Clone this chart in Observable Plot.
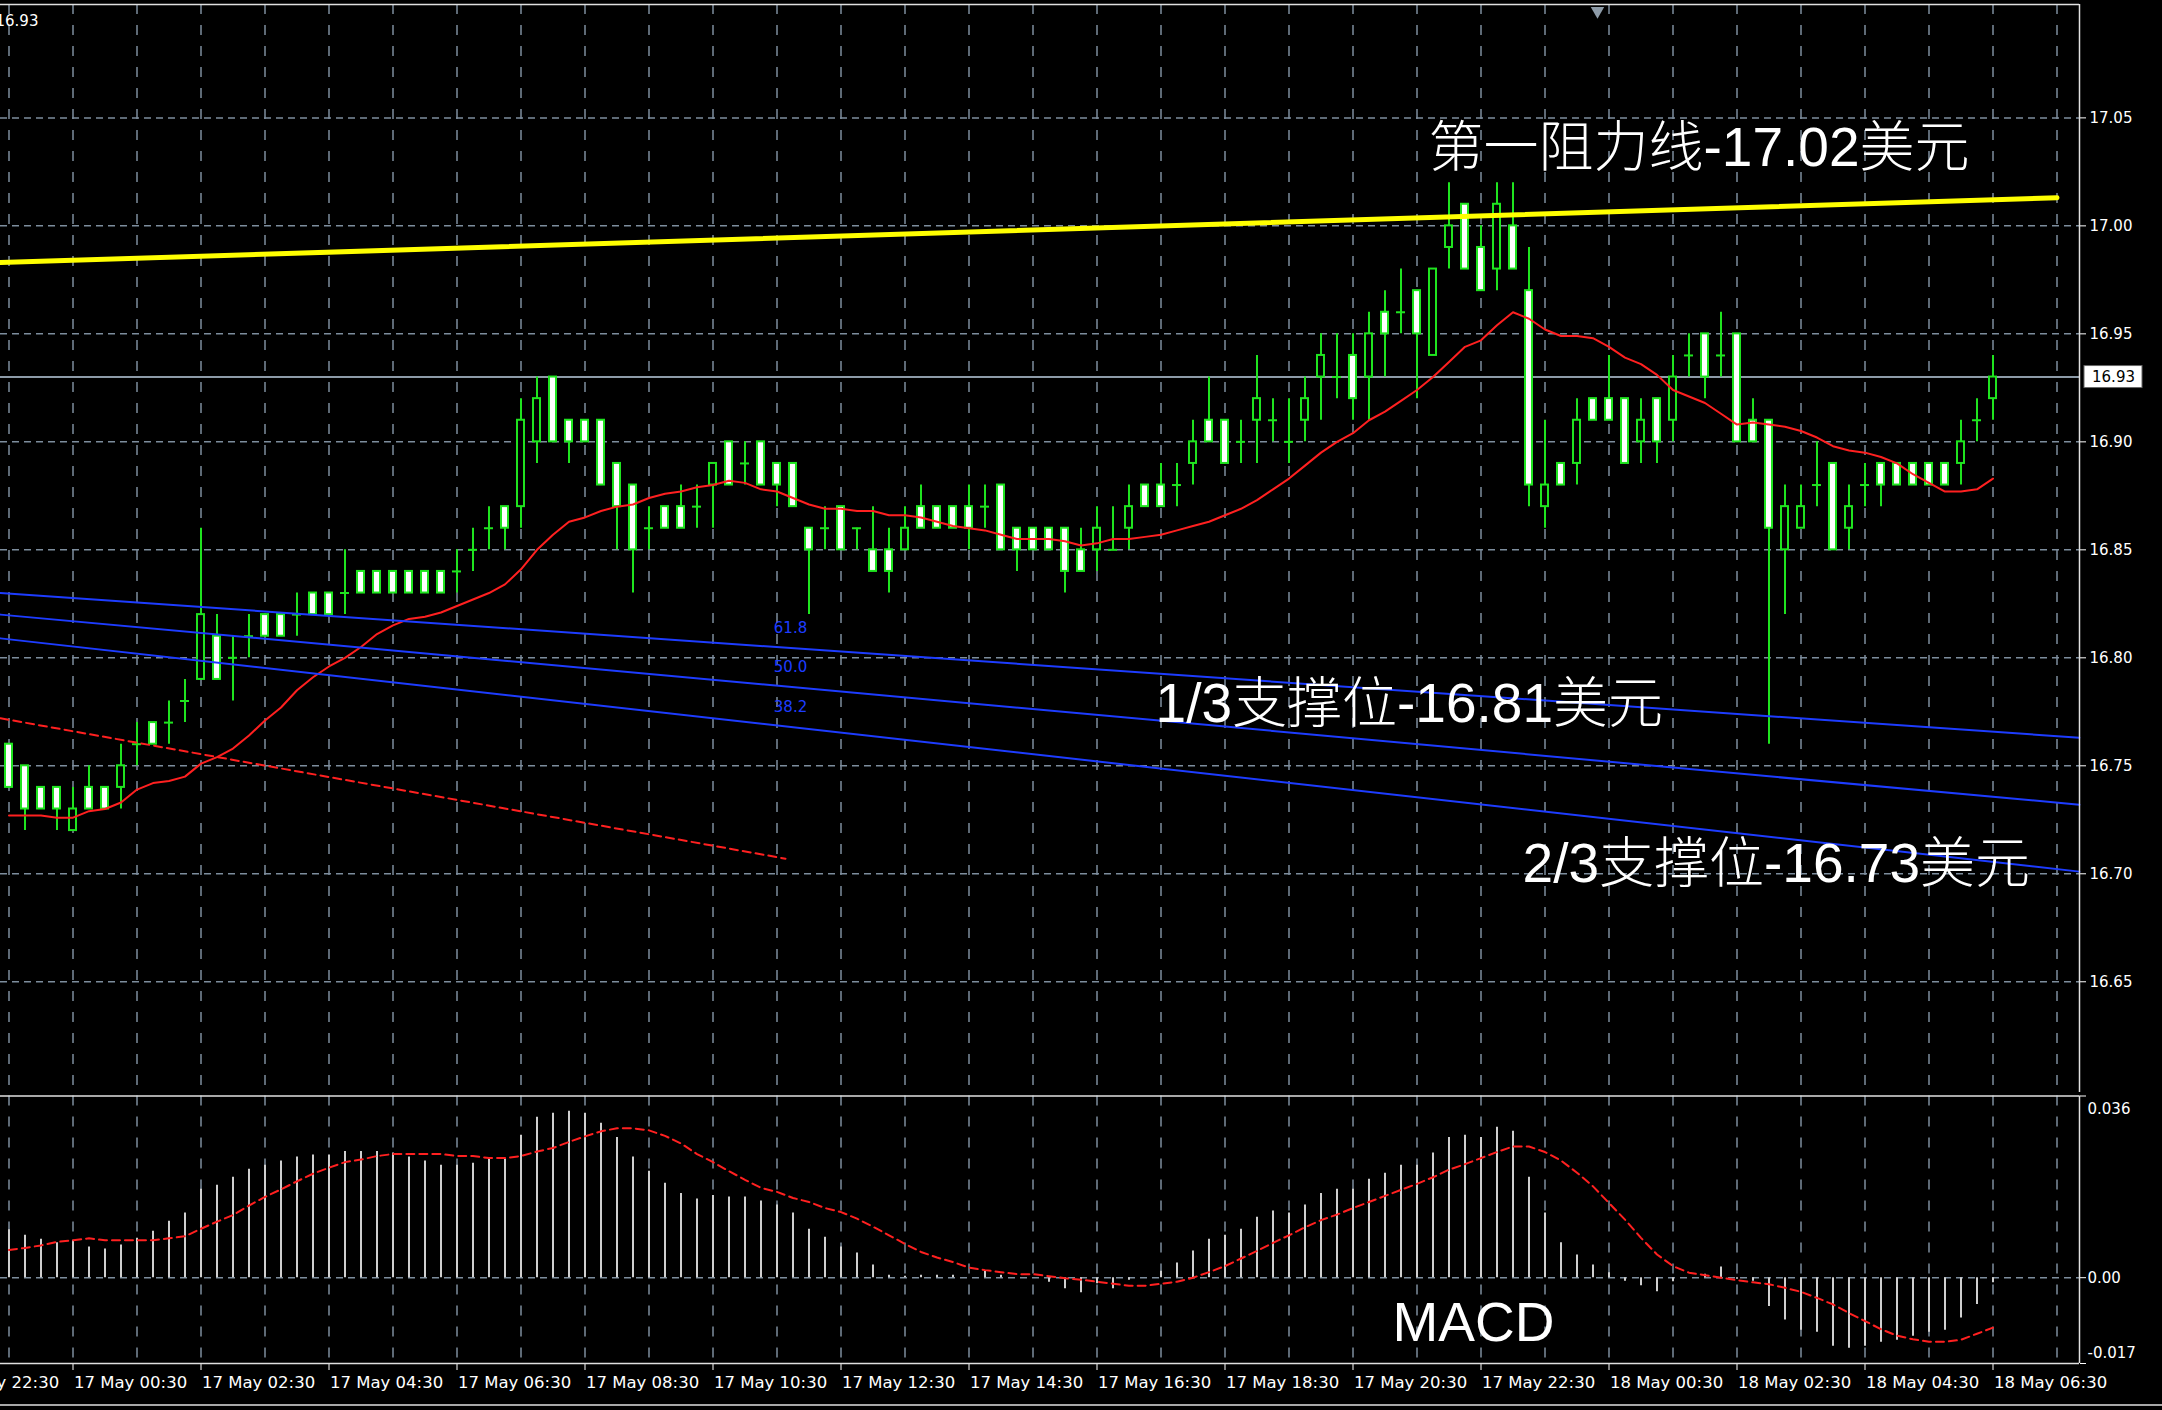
<!DOCTYPE html>
<html><head><meta charset="utf-8">
<script src="https://cdn.jsdelivr.net/npm/d3@7"></script>
<script src="https://cdn.jsdelivr.net/npm/@observablehq/plot@0.6"></script>
<style>
html,body{margin:0;padding:0;background:#000;}
#wrap{position:relative;width:2162px;height:1410px;background:#000;overflow:hidden;}
#main,#macd{position:absolute;left:0;}
#main{top:0}
#macd{top:1092px}
#foot{position:absolute;left:0;top:1404px;width:2162px;height:2px;background:#a8a8a8;}
</style></head><body><div id="wrap"><div id="main"></div><div id="macd"></div><div id="foot"></div></div>
<script>
// ---- data (SILVER, M15) ----
const startTime = "2017-05-16T23:30:00Z";   // time of the first candle
const open = [
16.76,16.75,16.74,16.74,16.72,16.74,16.74,16.74,16.76,16.77,
16.77,16.78,16.79,16.81,16.80,16.81,16.82,16.82,16.82,16.83,
16.83,16.83,16.84,16.84,16.84,16.84,16.84,16.84,16.84,16.85,
16.86,16.87,16.87,16.90,16.93,16.91,16.91,16.91,16.89,16.88,
16.86,16.87,16.87,16.87,16.88,16.90,16.89,16.90,16.89,16.89,
16.86,16.86,16.87,16.86,16.85,16.85,16.85,16.87,16.87,16.87,
16.87,16.87,16.88,16.86,16.86,16.86,16.86,16.85,16.85,16.85,
16.86,16.88,16.88,16.88,16.89,16.91,16.91,16.90,16.91,16.91,
16.90,16.91,16.93,16.93,16.94,16.93,16.96,16.96,16.97,16.94,
16.99,17.01,16.99,16.98,17.00,16.97,16.87,16.89,16.89,16.92,
16.92,16.92,16.90,16.92,16.91,16.94,16.95,16.94,16.95,16.91,
16.91,16.85,16.86,16.88,16.89,16.86,16.88,16.89,16.89,16.89,
16.89,16.89,16.89,16.91,16.92];
const high = [
16.76,16.75,16.74,16.74,16.74,16.75,16.74,16.76,16.77,16.77,
16.78,16.79,16.86,16.82,16.81,16.82,16.82,16.82,16.83,16.83,
16.83,16.85,16.84,16.84,16.84,16.84,16.84,16.84,16.85,16.86,
16.87,16.87,16.92,16.93,16.93,16.91,16.91,16.91,16.89,16.88,
16.87,16.87,16.88,16.88,16.89,16.90,16.90,16.90,16.89,16.89,
16.86,16.87,16.87,16.86,16.87,16.86,16.87,16.88,16.87,16.87,
16.88,16.88,16.88,16.86,16.86,16.86,16.86,16.86,16.87,16.87,
16.88,16.88,16.89,16.89,16.91,16.93,16.91,16.91,16.94,16.92,
16.92,16.93,16.95,16.95,16.95,16.96,16.97,16.98,16.97,16.98,
17.02,17.01,17.00,17.02,17.02,16.99,16.91,16.89,16.92,16.92,
16.94,16.92,16.92,16.92,16.94,16.95,16.95,16.96,16.95,16.92,
16.91,16.88,16.88,16.90,16.89,16.88,16.89,16.89,16.89,16.89,
16.89,16.89,16.91,16.92,16.94];
const low = [
16.74,16.72,16.73,16.72,16.72,16.73,16.73,16.73,16.75,16.76,
16.76,16.77,16.79,16.79,16.78,16.80,16.81,16.81,16.81,16.82,
16.82,16.82,16.83,16.83,16.83,16.83,16.83,16.83,16.83,16.84,
16.85,16.85,16.86,16.89,16.90,16.89,16.90,16.88,16.85,16.83,
16.85,16.86,16.86,16.86,16.86,16.88,16.88,16.88,16.87,16.87,
16.82,16.85,16.85,16.85,16.84,16.83,16.85,16.86,16.86,16.86,
16.85,16.86,16.85,16.84,16.85,16.85,16.83,16.84,16.84,16.85,
16.85,16.87,16.87,16.87,16.88,16.90,16.89,16.89,16.89,16.90,
16.89,16.90,16.91,16.92,16.91,16.91,16.93,16.95,16.92,16.94,
16.98,16.98,16.97,16.97,16.98,16.87,16.86,16.88,16.88,16.91,
16.91,16.89,16.89,16.89,16.90,16.93,16.92,16.93,16.90,16.90,
16.76,16.82,16.86,16.87,16.85,16.85,16.87,16.87,16.88,16.88,
16.88,16.88,16.88,16.90,16.91];
const close = [
16.74,16.73,16.73,16.73,16.73,16.73,16.73,16.75,16.76,16.76,
16.77,16.78,16.82,16.79,16.80,16.81,16.81,16.81,16.82,16.82,
16.82,16.83,16.83,16.83,16.83,16.83,16.83,16.83,16.84,16.85,
16.86,16.86,16.91,16.92,16.90,16.90,16.90,16.88,16.87,16.85,
16.86,16.86,16.86,16.87,16.89,16.88,16.89,16.88,16.88,16.87,
16.85,16.86,16.85,16.86,16.84,16.84,16.86,16.86,16.86,16.86,
16.86,16.87,16.85,16.85,16.85,16.85,16.84,16.84,16.86,16.85,
16.87,16.87,16.87,16.88,16.90,16.90,16.89,16.90,16.92,16.91,
16.90,16.92,16.94,16.93,16.92,16.95,16.95,16.96,16.95,16.98,
17.00,16.98,16.97,17.01,16.98,16.88,16.88,16.88,16.91,16.91,
16.91,16.89,16.91,16.90,16.93,16.94,16.93,16.94,16.90,16.90,
16.86,16.87,16.87,16.88,16.85,16.87,16.88,16.88,16.88,16.88,
16.88,16.88,16.90,16.91,16.93];
const movingAverage = [
16.727,16.727,16.727,16.726,16.726,16.729,16.730,16.733,16.739,16.742,
16.743,16.745,16.751,16.754,16.758,16.764,16.771,16.777,16.785,16.791,
16.796,16.800,16.805,16.811,16.815,16.818,16.819,16.821,16.824,16.827,
16.830,16.834,16.841,16.850,16.857,16.863,16.865,16.868,16.870,16.871,
16.874,16.876,16.877,16.879,16.880,16.882,16.881,16.878,16.877,16.874,
16.871,16.869,16.869,16.868,16.868,16.866,16.866,16.865,16.863,16.861,
16.860,16.859,16.857,16.855,16.855,16.855,16.854,16.852,16.853,16.855,
16.855,16.856,16.857,16.859,16.861,16.863,16.866,16.869,16.873,16.878,
16.883,16.889,16.895,16.900,16.904,16.910,16.914,16.919,16.924,16.930,
16.937,16.944,16.947,16.954,16.960,16.957,16.952,16.949,16.949,16.948,
16.944,16.939,16.936,16.931,16.924,16.921,16.918,16.913,16.908,16.909,
16.908,16.907,16.905,16.902,16.898,16.896,16.895,16.893,16.890,16.885,
16.881,16.877,16.877,16.878,16.883];
const macdHist = [
0.0095,0.0084,0.0076,0.0069,0.0074,0.0061,0.0057,0.0065,0.0078,0.0092,
0.0112,0.0128,0.0175,0.0183,0.0199,0.0215,0.0223,0.0231,0.0239,0.0243,
0.0243,0.0250,0.0250,0.0250,0.0247,0.0239,0.0231,0.0223,0.0223,0.0227,
0.0235,0.0235,0.0282,0.0318,0.0326,0.0330,0.0326,0.0306,0.0278,0.0239,
0.0211,0.0187,0.0167,0.0156,0.0163,0.0160,0.0160,0.0152,0.0144,0.0128,
0.0096,0.0080,0.0061,0.0049,0.0025,0.0005,0.0003,0.0005,0.0005,0.0005,
0.0000,0.0013,0.0005,0.0000,0.0000,-0.0009,-0.0022,-0.0030,-0.0012,-0.0022,
-0.0005,0.0000,0.0013,0.0029,0.0053,0.0076,0.0084,0.0096,0.0120,0.0132,
0.0128,0.0144,0.0167,0.0175,0.0175,0.0195,0.0207,0.0223,0.0223,0.0247,
0.0278,0.0282,0.0278,0.0298,0.0290,0.0199,0.0128,0.0069,0.0045,0.0025,
0.0010,-0.0007,-0.0016,-0.0028,-0.0008,0.0000,0.0007,0.0021,-0.0003,-0.0007,
-0.0057,-0.0084,-0.0104,-0.0108,-0.0136,-0.0140,-0.0136,-0.0128,-0.0124,-0.0116,
-0.0108,-0.0104,-0.0080,-0.0053,-0.0010];
const macdSignal = [
0.0055,0.0059,0.0064,0.0071,0.0074,0.0078,0.0074,0.0074,0.0074,0.0074,
0.0078,0.0082,0.0097,0.0111,0.0124,0.0143,0.0160,0.0175,0.0191,0.0206,
0.0218,0.0229,0.0234,0.0241,0.0245,0.0245,0.0245,0.0245,0.0241,0.0241,
0.0237,0.0237,0.0241,0.0250,0.0257,0.0269,0.0280,0.0290,0.0296,0.0296,
0.0292,0.0281,0.0266,0.0245,0.0229,0.0211,0.0194,0.0178,0.0170,0.0158,
0.0150,0.0138,0.0130,0.0117,0.0101,0.0084,0.0067,0.0051,0.0040,0.0031,
0.0020,0.0015,0.0011,0.0007,0.0007,0.0003,-0.0001,-0.0004,-0.0008,-0.0012,
-0.0016,-0.0016,-0.0012,-0.0008,0.0000,0.0011,0.0023,0.0038,0.0053,0.0069,
0.0084,0.0100,0.0114,0.0125,0.0138,0.0150,0.0162,0.0174,0.0186,0.0199,
0.0214,0.0225,0.0237,0.0249,0.0260,0.0260,0.0249,0.0232,0.0208,0.0181,
0.0148,0.0115,0.0079,0.0046,0.0023,0.0010,0.0005,0.0000,-0.0005,-0.0009,
-0.0013,-0.0020,-0.0028,-0.0040,-0.0053,-0.0070,-0.0086,-0.0102,-0.0115,-0.0122,
-0.0127,-0.0127,-0.0123,-0.0111,-0.0099];

const timeLabels = ["16 May 22:30","17 May 00:30","17 May 02:30","17 May 04:30","17 May 06:30",
  "17 May 08:30","17 May 10:30","17 May 12:30","17 May 14:30","17 May 16:30","17 May 18:30",
  "17 May 20:30","17 May 22:30","18 May 00:30","18 May 02:30","18 May 04:30","18 May 06:30"];
const priceTicks = [16.65, 16.70, 16.75, 16.80, 16.85, 16.90, 16.95, 17.00, 17.05];
const macdTicks = [0.036, 0, -0.017];
const macdTickText = ["0.036", "0.00", "-0.017"];
const macdTickAnchor = ["top", "middle", "bottom"];

// drawn objects: [candle index, price]
const resistanceLine = [[-0.53, 16.983], [128.0, 17.013]];
const fibLevels = ["61.8", "50.0", "38.2"];
const fibStart = [16.830, 16.820, 16.809];
const fibEnd = [16.763, 16.732, 16.701];
const fibLineSpan = [-0.53, 129.4];
const fibLabelPos = [[47.8, 16.8137], [47.8, 16.7957], [47.8, 16.7772]];
const redTrend = [[-0.53, 16.772], [48.53, 16.707]];
const annotationText = ["第一阻力线-17.02美元", "1/3支撑位-16.81美元", "2/3支撑位-16.73美元"];
const annotationPos = [[88.72, 17.0278], [71.66, 16.7704], [94.6, 16.6963]];
const macdTitle = "MACD";
const macdTitlePos = [86.47, -0.01246];
const shiftMarker = [99.28, 17.0995];

// ---- helpers ----
const T0 = Date.parse(startTime), STEP = 15 * 60 * 1000;
const t = i => new Date(T0 + i * STEP);
const parseLabel = d3.utcParse("%Y %d %b %H:%M");
const ticks = timeLabels.map(l => ({date: parseLabel("2017 " + l), label: l}));
const candles = open.map((o, i) => ({time: t(i), open: o, high: high[i], low: low[i], close: close[i],
  ma: movingAverage[i], hist: macdHist[i], signal: macdSignal[i]}));
const bulls = candles.filter(d => d.close > d.open);
const bears = candles.filter(d => d.close < d.open);
const dojis = candles.filter(d => d.close === d.open);
const lastClose = close[close.length - 1];
const gridTimes = d3.range(0, 130, 4).map(t);
const xDomain = [t(-0.53125), t(129.40625)];
const yDomain = [16.5985, 17.1025];
const xEnd = xDomain[1];
const fibPts = fibLevels.flatMap((lv, k) => [
  {level: lv, time: t(fibLineSpan[0]), p: fibStart[k]},
  {level: lv, time: t(fibLineSpan[1]), p: fibEnd[k]}]);
const fibLabels = fibLevels.map((lv, k) => ({label: lv, time: t(fibLabelPos[k][0]), p: fibLabelPos[k][1]}));
const annotations = annotationText.map((s, k) => ({label: s, time: t(annotationPos[k][0]), p: annotationPos[k][1]}));

const GREEN = "#1fe41f", RED = "#ff2020", GRID = "#7d8d9d", BLUE = "#1d3cff", YELLOW = "#ffff00";
const BIG = "'Liberation Sans', 'Noto Sans CJK SC', sans-serif";
const SMALL = "'DejaVu Sans', sans-serif";

const main = Plot.plot({
  width: 2162, height: 1094,
  marginTop: 4, marginBottom: 1.5, marginLeft: 0, marginRight: 83,
  style: {background: "#000", color: "#fff", fontFamily: SMALL, fontSize: "15px"},
  x: {type: "utc", domain: xDomain, axis: null},
  y: {domain: yDomain, axis: "right", ticks: priceTicks, tickFormat: ".2f", tickSize: 6, tickPadding: 4, label: null},
  marks: [
    Plot.ruleY(priceTicks, {stroke: GRID, strokeWidth: 1.5, strokeDasharray: "7,5"}),
    Plot.ruleX(gridTimes, {stroke: GRID, strokeWidth: 1.5, strokeDasharray: "10,11"}),
    Plot.ruleY([lastClose], {stroke: "#8d9ba8", strokeWidth: 2}),
    Plot.ruleX(candles, {x: "time", y1: "low", y2: "high", stroke: GREEN, strokeWidth: 2}),
    Plot.rect(bears, {x1: "time", x2: "time", y1: "open", y2: "close", insetLeft: -3.5, insetRight: -3.5, fill: "#fff", stroke: GREEN, strokeWidth: 2}),
    Plot.rect(bulls, {x1: "time", x2: "time", y1: "open", y2: "close", insetLeft: -3.5, insetRight: -3.5, fill: "#000", stroke: GREEN, strokeWidth: 2}),
    Plot.ruleY(dojis, {y: "open", x1: "time", x2: "time", insetLeft: -4.5, insetRight: -4.5, stroke: GREEN, strokeWidth: 2}),
    Plot.line(candles, {x: "time", y: "ma", stroke: RED, strokeWidth: 2}),
    Plot.line(redTrend, {x: d => t(d[0]), y: d => d[1], stroke: RED, strokeWidth: 2, strokeDasharray: "8,5"}),
    Plot.line(fibPts, {x: "time", y: "p", z: "level", stroke: BLUE, strokeWidth: 2}),
    Plot.text(fibLabels, {x: "time", y: "p", text: "label", fill: BLUE, fontSize: 15, textAnchor: "start", fontFamily: SMALL}),
    Plot.line(resistanceLine, {x: d => t(d[0]), y: d => d[1], stroke: YELLOW, strokeWidth: 5}),
    Plot.ruleY([yDomain[1]], {stroke: "#e0e0e0", strokeWidth: 1.5}),
    Plot.ruleY([yDomain[0]], {stroke: "#e0e0e0", strokeWidth: 1.5}),
    Plot.ruleX([xEnd], {stroke: "#e0e0e0", strokeWidth: 1.5}),
    Plot.dot([shiftMarker], {x: d => t(d[0]), y: d => d[1], symbol: "triangle", rotate: 180, r: 5, fill: "#8d9ba8"}),
    Plot.rect([lastClose], {x1: () => xEnd, x2: () => xEnd, y1: d => d, y2: d => d,
      insetLeft: 5, insetRight: -63, insetTop: -11, insetBottom: -11, fill: "#fff", stroke: "#666"}),
    Plot.text([lastClose], {x: () => xEnd, y: d => d, text: d => d.toFixed(2), dx: 34, fill: "#000", fontSize: 15}),
    Plot.text([lastClose], {frameAnchor: "top-left", text: d => d.toFixed(2), dx: -5, dy: 11, lineAnchor: "top", textAnchor: "start", fill: "#fff", fontSize: 15}),
    Plot.text(annotations, {x: "time", y: "p", text: "label", textAnchor: "start", lineAnchor: "bottom",
      fill: "#fff", fontSize: 55, fontFamily: BIG, fontWeight: 300})
  ]
});
document.getElementById("main").appendChild(main);

const macdLabelData = macdTicks.map((v, k) => ({v, text: macdTickText[k], anchor: macdTickAnchor[k]}));
const macd = Plot.plot({
  width: 2162, height: 318,
  marginTop: 3.5, marginBottom: 47, marginLeft: 0, marginRight: 83,
  style: {background: "#000", color: "#fff", fontFamily: SMALL, fontSize: "15px"},
  x: {type: "utc", domain: xDomain, axis: "bottom", ticks: ticks.map(d => d.date), tickFormat: () => "", tickSize: 7, label: null},
  y: {domain: [-0.017, 0.036], axis: "right", ticks: macdTicks, tickFormat: () => "", tickSize: 6, label: null},
  marks: [
    Plot.ruleX(gridTimes, {stroke: GRID, strokeWidth: 1.5, strokeDasharray: "10,11"}),
    Plot.ruleY([0], {stroke: GRID, strokeWidth: 1.5, strokeDasharray: "7,5"}),
    Plot.ruleX(candles, {x: "time", y1: 0, y2: "hist", stroke: "#cfcfcf", strokeWidth: 2}),
    Plot.line(candles, {x: "time", y: "signal", stroke: RED, strokeWidth: 2, strokeDasharray: "8,5"}),
    Plot.ruleY([0.036], {stroke: "#e0e0e0", strokeWidth: 1.5}),
    Plot.ruleY([-0.017], {stroke: "#e0e0e0", strokeWidth: 1.5}),
    Plot.ruleX([xEnd], {stroke: "#e0e0e0", strokeWidth: 1.5}),
    Plot.text(macdLabelData.filter(d => d.anchor === "top"), {x: () => xEnd, y: "v", text: "text", dx: 8, dy: 7, textAnchor: "start", lineAnchor: "top", fontSize: 15}),
    Plot.text(macdLabelData.filter(d => d.anchor === "middle"), {x: () => xEnd, y: "v", text: "text", dx: 8, textAnchor: "start", lineAnchor: "middle", fontSize: 15}),
    Plot.text(macdLabelData.filter(d => d.anchor === "bottom"), {x: () => xEnd, y: "v", text: "text", dx: 8, dy: -6, textAnchor: "start", lineAnchor: "bottom", fontSize: 15}),
    Plot.text([macdTitle], {x: () => t(macdTitlePos[0]), y: () => macdTitlePos[1], text: d => d, textAnchor: "start", lineAnchor: "bottom", fill: "#fff", fontSize: 55, fontFamily: BIG}),
    Plot.text(ticks, {x: "date", text: "label", frameAnchor: "bottom", dy: 24, dx: 1, textAnchor: "start", lineAnchor: "bottom", fill: "#fff", fontSize: 16.5})
  ]
});
document.getElementById("macd").appendChild(macd);
</script>
</body></html>
